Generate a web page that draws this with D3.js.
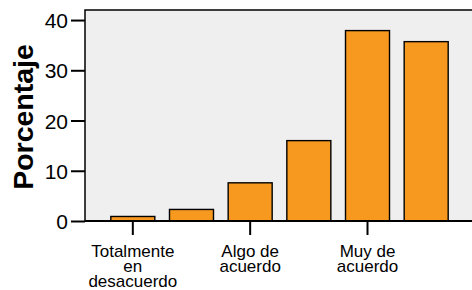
<!DOCTYPE html>
<html>
<head>
<meta charset="utf-8">
<script src="https://cdn.jsdelivr.net/npm/d3@7"></script>
<style>
  body { margin: 0; background: #fff; }
  svg { display: block; font-family: "Liberation Sans", Arial, sans-serif; }
</style>
</head>
<body>
<div id="chart"></div>
<script>
// data
const categories = ["Totalmente\nen\ndesacuerdo", "Bastante en desacuerdo", "Algo de\nacuerdo",
                    "Bastante de acuerdo", "Muy de\nacuerdo", "Totalmente de acuerdo"];
const percentages = [0.9, 2.3, 7.6, 16.0, 37.9, 35.7];
const yTicks = [0, 10, 20, 30, 40];
const labelledCats = [categories[0], categories[2], categories[4]];

const width = 472, height = 290;
const margin = {top: 10, right: -2, bottom: 69, left: 85};

const svg = d3.select("#chart").append("svg")
    .attr("width", width)
    .attr("height", height);

const x = d3.scaleBand()
    .domain(categories)
    .range([margin.left, width - margin.right])
    .paddingInner(0.25)
    .paddingOuter(0.44);

const y = d3.scaleLinear()
    .domain([0, 42])
    .range([height - margin.bottom, margin.top]);

// plot background
svg.append("rect")
    .attr("x", margin.left)
    .attr("y", margin.top)
    .attr("width", width - margin.right - margin.left)
    .attr("height", y(0) - margin.top)
    .attr("fill", "#efefef");

// bars
svg.append("g")
    .selectAll("rect")
    .data(percentages)
    .join("rect")
    .attr("x", (d, i) => x(categories[i]))
    .attr("y", d => y(d))
    .attr("width", x.bandwidth())
    .attr("height", d => y(0) - y(d))
    .attr("fill", "#f7991f")
    .attr("stroke", "#000")
    .attr("stroke-width", 1.4);

// frame: top and left
svg.append("path")
    .attr("d", `M${margin.left},${y(0)}V${margin.top}H${width - margin.right}`)
    .attr("fill", "none")
    .attr("stroke", "#000")
    .attr("stroke-width", 1.5);

// y axis
const yAxis = svg.append("g")
    .attr("transform", `translate(${margin.left},0)`)
    .call(d3.axisLeft(y).tickValues(yTicks).tickSize(14).tickPadding(3));
yAxis.select(".domain").remove();
yAxis.selectAll(".tick line").attr("stroke", "#000").attr("stroke-width", 2);
yAxis.selectAll(".tick text")
    .attr("fill", "#000")
    .style("font-size", "21px")
    .attr("dy", "0.36em");

// x axis
const xAxis = svg.append("g")
    .attr("transform", `translate(0,${y(0)})`)
    .call(d3.axisBottom(x).tickValues(labelledCats).tickSize(14).tickFormat(""));
xAxis.select(".domain")
    .attr("d", `M${margin.left},0H${width - margin.right}`)
    .attr("stroke", "#000")
    .attr("stroke-width", 2);
xAxis.selectAll(".tick line").attr("stroke", "#000").attr("stroke-width", 2);

xAxis.selectAll(".tick").each(function(d) {
    const lines = d.split("\n");
    const t = d3.select(this).append("text")
        .attr("fill", "#000")
        .attr("text-anchor", "middle")
        .style("font-size", "17px");
    lines.forEach((line, i) => {
        t.append("tspan")
            .attr("x", 0)
            .attr("y", 35.5 + i * 15)
            .text(line);
    });
});

// y label
svg.append("text")
    .attr("transform", `translate(33,117) rotate(-90)`)
    .attr("text-anchor", "middle")
    .style("font-size", "28.5px")
    .style("font-weight", "bold")
    .text("Porcentaje");
</script>
</body>
</html>
